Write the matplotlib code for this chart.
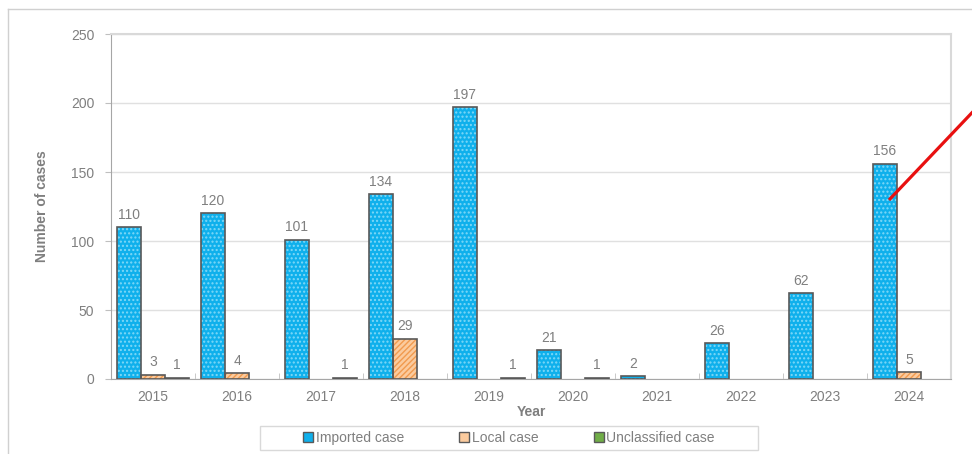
import matplotlib
matplotlib.use("Agg")
import matplotlib.pyplot as plt
import numpy as np
from matplotlib.lines import Line2D
from matplotlib.patches import Patch, Rectangle

plt.rcParams["font.family"] = ["Liberation Sans", "DejaVu Sans"]

years = ["2015", "2016", "2017", "2018", "2019", "2020", "2021", "2022", "2023", "2024"]
imported = [110, 120, 101, 134, 197, 21, 2, 26, 62, 156]
local = [3, 4, 0, 29, 0, 0, 0, 0, 0, 5]
unclassified = [1, 0, 1, 0, 1, 1, 0, 0, 0, 0]

series = [
    ("Imported case", imported, "#0FB0EC", "#7FD8F7", "...."),
    ("Local case", local, "#FBCB9E", "#F19A4E", "//////"),
    ("Unclassified case", unclassified, "#70AD47", "#A9D18E", "...."),
]

TEXT = "#7F7F7F"
EDGE = "#595959"

fig = plt.figure(figsize=(9.72, 4.54), dpi=100)
ax = fig.add_axes([111 / 972, 1 - 379 / 454, 840 / 972, 345 / 454])

x = np.arange(len(years))
w = 0.286
for i, (name, vals, face, hatchc, hatch) in enumerate(series):
    vals = np.array(vals)
    keep = vals > 0  # empty categories get no bar at all
    pos = (x + (i - 1) * w)[keep]
    vals = vals[keep]
    # hatch layer first, then outline on top
    ax.bar(pos, vals, w, color=face, edgecolor=hatchc, hatch=hatch, linewidth=0, zorder=2)
    ax.bar(pos, vals, w, fill=False, edgecolor=EDGE, linewidth=1.2, zorder=3)
    for p, v in zip(pos, vals):
        ax.text(p, v + 4, str(v), ha="center", va="bottom", fontsize=10, color=TEXT)

ax.set_xlim(-0.5, len(years) - 0.5)
ax.set_ylim(0, 250)
ax.set_yticks(range(0, 251, 50))
ax.set_xticks(x)
ax.set_xticklabels(years)
ax.set_xticks(np.arange(-0.5, len(years) - 0.4, 1), minor=True)
ax.tick_params(axis="x", which="major", length=0, labelsize=10, labelcolor=TEXT, pad=8)
ax.tick_params(axis="x", which="minor", length=4, direction="in", color="#BFBFBF")
ax.tick_params(axis="y", length=4, color="#BFBFBF", labelsize=10, labelcolor=TEXT, pad=8)
ax.grid(axis="y", color="#E0E0E0", linewidth=1, zorder=0)
ax.set_axisbelow(True)
for side in ["left", "bottom"]:
    ax.spines[side].set_color("#A6A6A6")
for side in ["top", "right"]:
    ax.spines[side].set_color("#D9D9D9")
    ax.spines[side].set_linewidth(1.5)

ax.set_xlabel("Year", fontsize=10, fontweight="bold", color=TEXT, labelpad=1)
ax.set_ylabel("Number of cases", fontsize=10, fontweight="bold", color=TEXT, labelpad=16)

# legend box drawn by hand so it matches the original width
fig.add_artist(Rectangle((260 / 972, 1 - 450 / 454), 498 / 972, 24 / 454,
                         transform=fig.transFigure, fill=False,
                         edgecolor="#D9D9D9", linewidth=1))
handles = [Patch(facecolor=s[2], edgecolor=EDGE, linewidth=1) for s in series]
leg = fig.legend(handles, [s[0] for s in series], loc="center",
                 bbox_to_anchor=(509 / 972, 1 - 438 / 454),
                 ncol=3, frameon=False, fontsize=10,
                 handlelength=0.7, handleheight=0.7, handletextpad=0.2,
                 columnspacing=4.0, borderpad=0.3)
for t in leg.get_texts():
    t.set_color(TEXT)

# outer frame of the original picture
fig.add_artist(Line2D([8 / 972, 8 / 972], [0, 1 - 9 / 454], transform=fig.transFigure,
                      color="#D0D0D0", linewidth=1))
fig.add_artist(Line2D([8 / 972, 1], [1 - 9 / 454, 1 - 9 / 454], transform=fig.transFigure,
                      color="#D0D0D0", linewidth=1))

# red pointer line
fig.add_artist(Line2D([889 / 972, 985 / 972], [1 - 200 / 454, 1 - 99 / 454],
                      transform=fig.transFigure, color="#E81010", linewidth=2.3,
                      solid_capstyle="butt"))

fig.savefig("out.png", dpi=100)
